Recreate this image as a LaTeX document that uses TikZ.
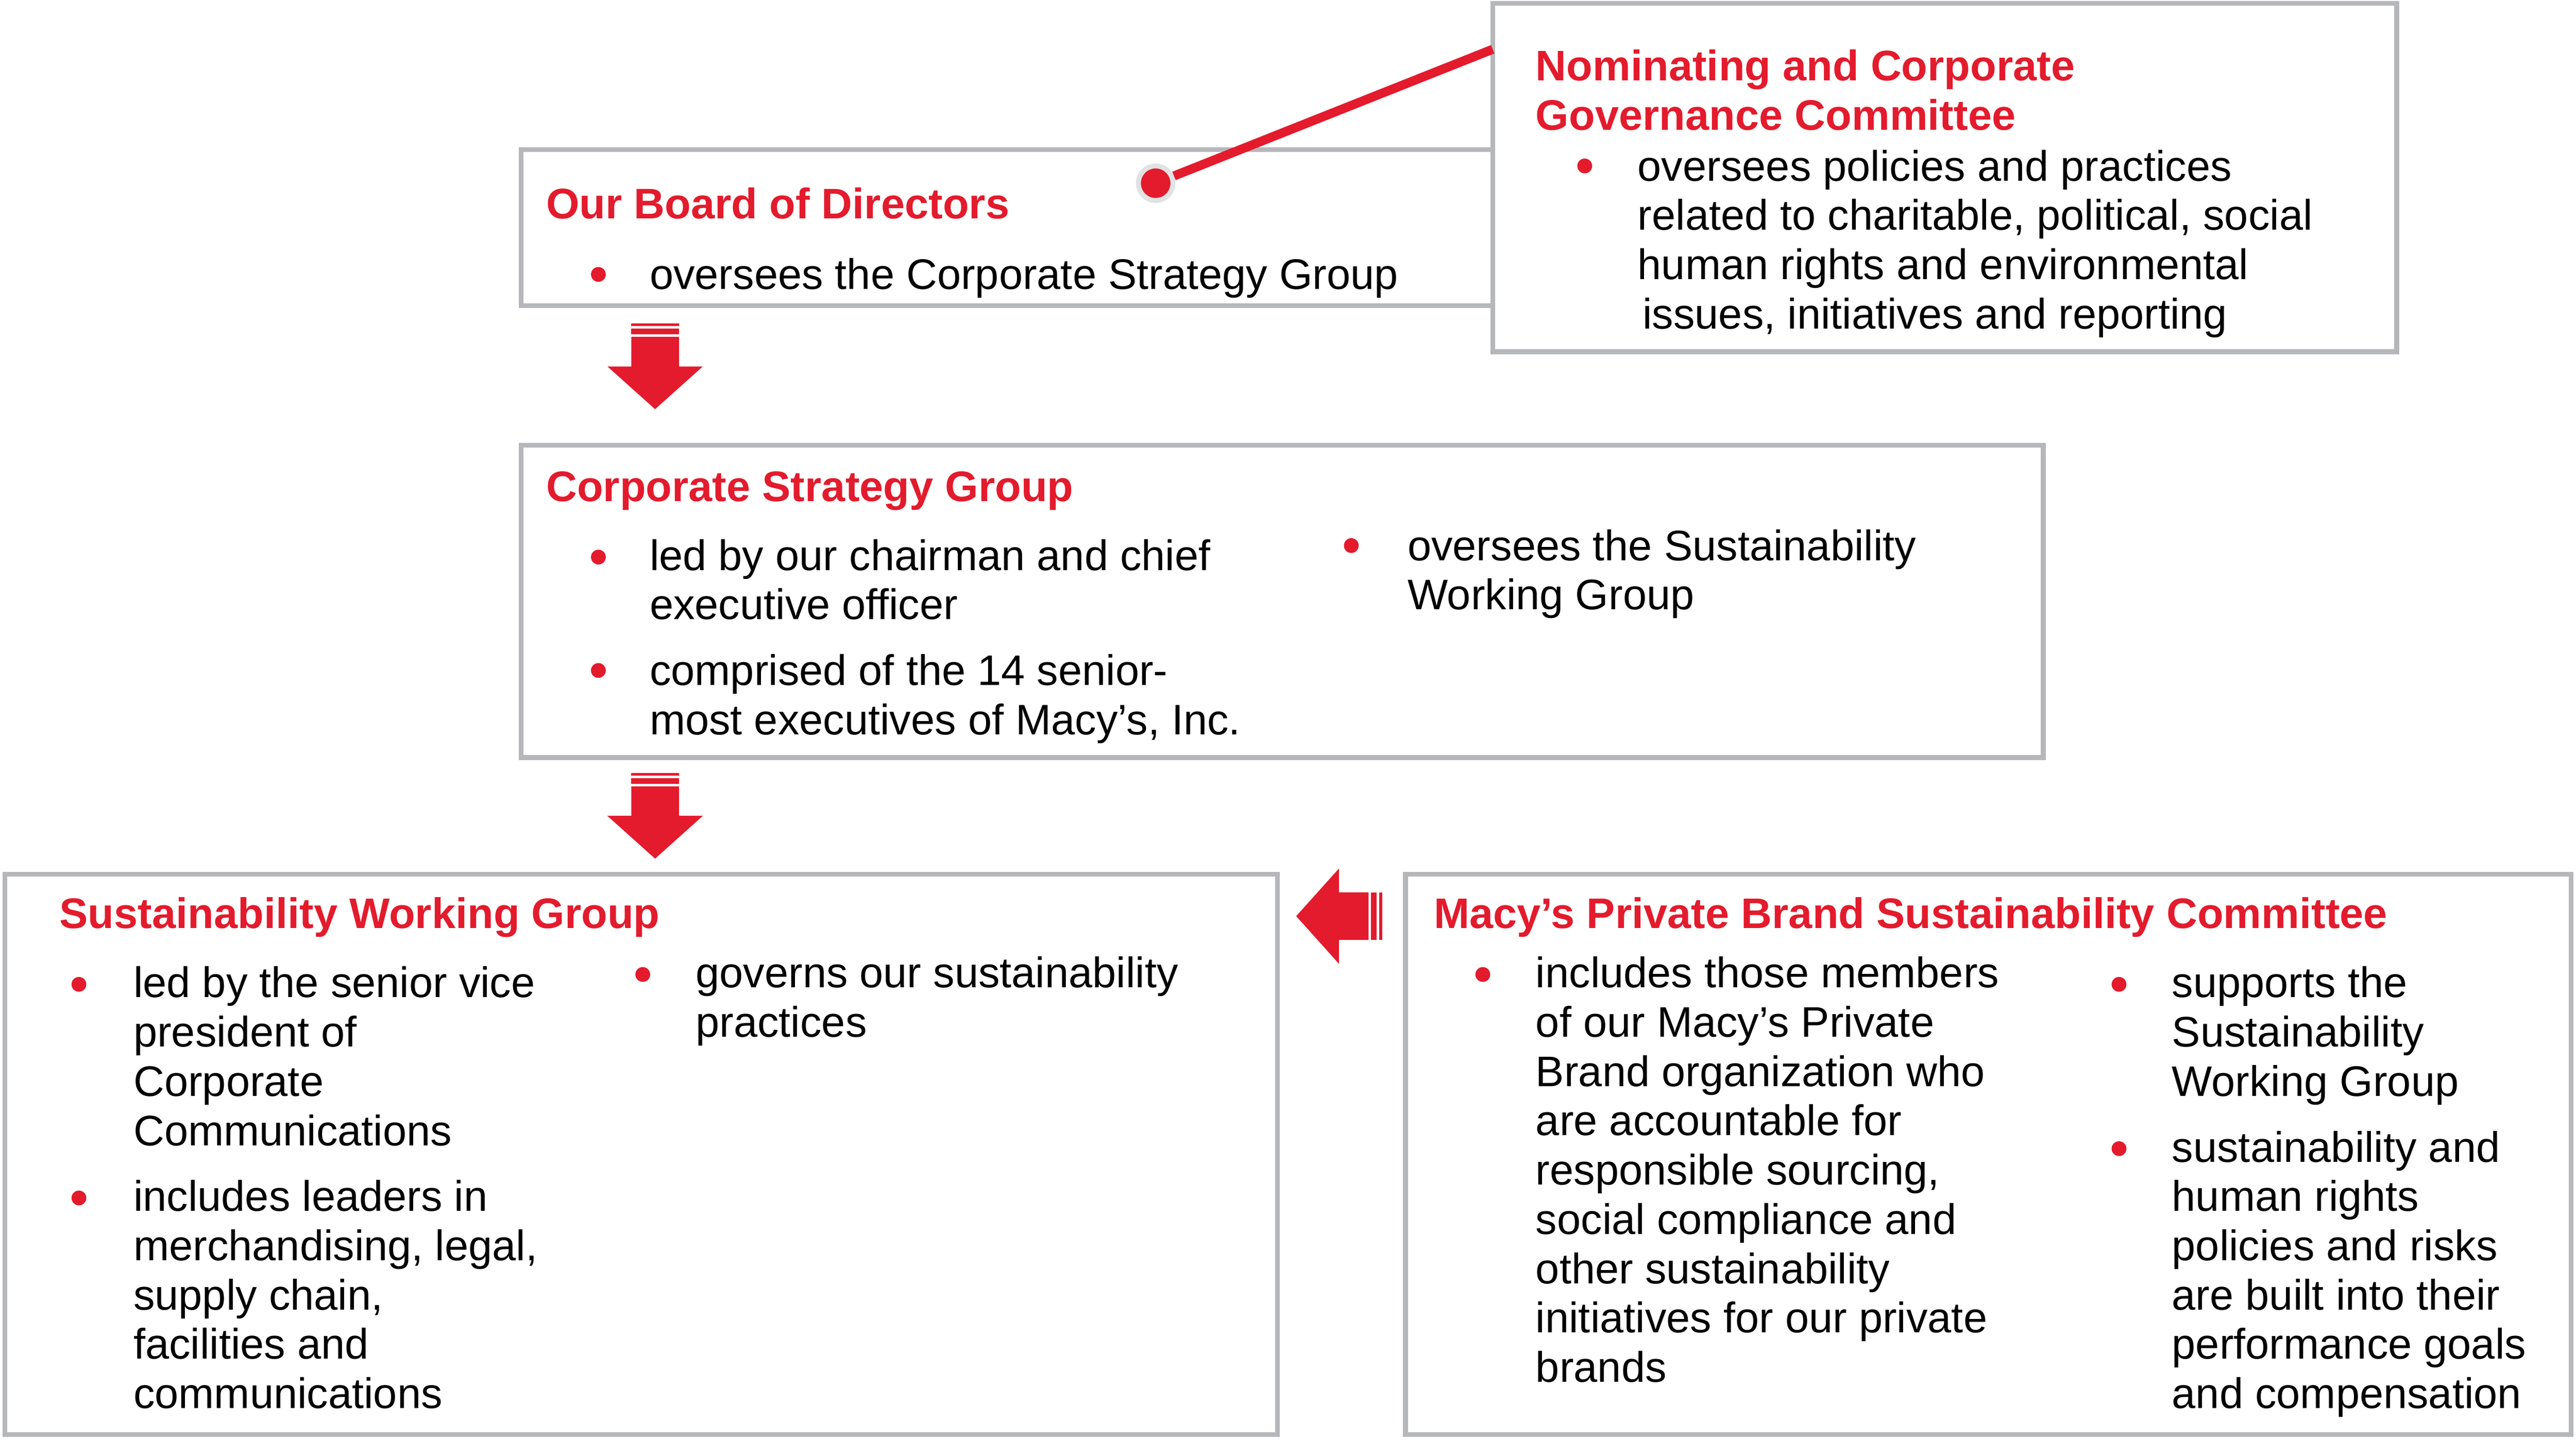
\documentclass[tikz,border=0pt]{standalone}
\usepackage{fontspec}
\setmainfont{Liberation Sans}
\usepackage{tikz}
\usetikzlibrary{calc}
\tikzset{>=latex}

\definecolor{macyred}{HTML}{E31B2D}
\definecolor{boxgray}{HTML}{B6B7BA}
\definecolor{rimgray}{HTML}{E1E2E3}
\newcommand{\chartfont}{\fontsize{22.2}{25.6}\selectfont}

\tikzset{
  panel/.style={draw=boxgray,line width=0.9mm,fill=white},
  heading/.style={anchor=base west,inner sep=0pt,align=left,
    text=macyred,font=\chartfont\bfseries},
  bodytext/.style={anchor=base west,inner sep=0pt,align=left,font=\chartfont},
  bullet/.style={circle,fill=macyred,inner sep=0pt,minimum size=2.7mm}
}

\begin{document}
\begin{tikzpicture}[x=0.3mm,y=-0.3mm]
    \useasboundingbox (0,0) rectangle (1567,876.7);

    \coordinate (bd1) at (317, 91);
    \coordinate (bd2) at (908, 186);
    \coordinate (ng1) at (908, 2);
    \coordinate (ng2) at (1458, 214);
    \coordinate (cs1) at (317, 271);
    \coordinate (cs2) at (1243, 461);
    \coordinate (sw1) at (3, 532);
    \coordinate (sw2) at (777, 873);
    \coordinate (pb1) at (855, 532);
    \coordinate (pb2) at (1564, 873);

    \draw [panel] (bd1) rectangle (bd2);
    \draw [panel] (ng1) rectangle (ng2);
    \draw [panel] (cs1) rectangle (cs2);
    \draw [panel] (sw1) rectangle (sw2);
    \draw [panel] (pb1) rectangle (pb2);

    % board of directors
    \node [heading] (bdtitle) at (332, 133) {Our Board of Directors};
    \node [bullet] (bdbul) at (364, 167) {};
    \node [bodytext] (bdtext) at (395, 176) {oversees the Corporate Strategy Group};

    % nominating committee (multi-line nodes sit on their last line)
    \node [heading] (ngtitle) at (934, 79)
    {Nominating and Corporate\\Governance Committee};
    \node [bullet] (ngbul) at (964, 101) {};
    \node [bodytext] (ngtext) at (996, 200)
    {oversees policies and practices\\related to charitable, political, social\\human rights and environmental\\\hspace*{0.9mm}issues, initiatives and reporting};

    % connector
    \coordinate (ngedge) at (908, 30);
    \node [circle,fill=macyred,draw=rimgray,line width=0.9mm,inner sep=0pt,
    minimum size=6.3mm] (bddot) at (703, 111.5) {};
    \draw [macyred,line width=1.65mm] (bddot) -- (ngedge);

    % corporate strategy group
    \node [heading] (cstitle) at (332, 305) {Corporate Strategy Group};
    \node [bullet] (csbul1) at (364, 339) {};
    \node [bodytext] (cstext1) at (395, 377)
    {led by our chairman and chief\\executive officer};
    \node [bullet] (csbul2) at (364, 408) {};
    \node [bodytext] (cstext2) at (395, 447)
    {comprised of the 14 senior-\\most executives of Macy’s, Inc.};
    \node [bullet] (csbul3) at (822, 332) {};
    \node [bodytext] (cstext3) at (856, 371)
    {oversees the Sustainability\\Working Group};

    % sustainability working group
    \node [heading] (swtitle) at (36, 565) {Sustainability Working Group};
    \node [bullet] (swbul1) at (48, 599) {};
    \node [bodytext] (swtext1) at (81, 697)
    {led by the senior vice\\president of\\Corporate\\Communications};
    \node [bullet] (swbul2) at (48, 729) {};
    \node [bodytext] (swtext2) at (81, 857)
    {includes leaders in\\merchandising, legal,\\supply chain,\\facilities and\\communications};
    \node [bullet] (swbul3) at (391, 593) {};
    \node [bodytext] (swtext3) at (423, 631)
    {governs our sustainability\\practices};

    % private brand committee
    \node [heading] (pbtitle) at (872, 565)
    {Macy’s Private Brand Sustainability Committee};
    \node [bullet] (pbbul1) at (902, 593) {};
    \node [bodytext] (pbtext1) at (934, 841)
    {includes those members\\of our Macy’s Private\\Brand organization who\\are accountable for\\responsible sourcing,\\social compliance and\\other sustainability\\initiatives for our private\\brands};
    \node [bullet] (pbbul2) at (1289, 599) {};
    \node [bodytext] (pbtext2) at (1321, 667)
    {supports the\\Sustainability\\Working Group};
    \node [bullet] (pbbul3) at (1289, 699) {};
    \node [bodytext] (pbtext3) at (1321, 857)
    {sustainability and\\human rights\\policies and risks\\are built into their\\performance goals\\and compensation};

    % block arrows
    \foreach \ax/\ay/\ar in {398.5/249/0, 398.5/522.5/0, 788.5/557.5/-90} {
      \begin{scope}[shift={(\ax,\ay)},rotate=\ar]
        \fill [macyred] (0,0) -- (-29,-26) -- (-14.5,-26) -- (-14.5,-44)
        -- (14.5,-44) -- (14.5,-26) -- (29,-26) -- cycle;
        \fill [macyred] (-14.5,-45.6) rectangle (14.5,-49);
        \fill [macyred] (-14.5,-50.6) rectangle (14.5,-52.2);
      \end{scope}
    }
  \end{tikzpicture}
\end{document}
